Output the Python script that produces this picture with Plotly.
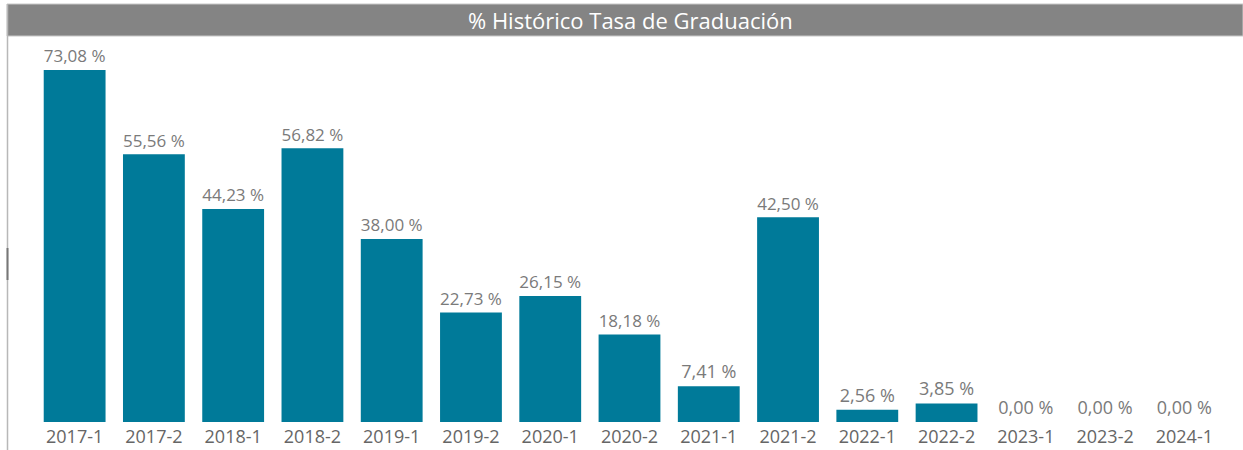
import plotly.graph_objects as go

categories = ["2017-1", "2017-2", "2018-1", "2018-2", "2019-1", "2019-2", "2020-1", "2020-2",
              "2021-1", "2021-2", "2022-1", "2022-2", "2023-1", "2023-2", "2024-1"]
values = [73.08, 55.56, 44.23, 56.82, 38.00, 22.73, 26.15, 18.18, 7.41, 42.50, 2.56, 3.85, 0.00, 0.00, 0.00]
labels = [f"{v:.2f}".replace(".", ",") + " %" for v in values]
title_text = "% Histórico Tasa de Graduación"

W, H = 1243, 450
ml, mr, mt, mb = 35, 19, 40, 28
pw, ph = W - ml - mr, H - mt - mb

def px_x(x):
    return (x - ml) / pw

def px_y(y):
    return (H - mb - y) / ph

FONT = "Open Sans, Noto Sans, sans-serif"

fig = go.Figure(go.Bar(
    x=categories, y=values, text=labels, textposition="outside",
    textfont=dict(family=FONT, size=18, color="#7a7a7a"),
    marker=dict(color="#007A99", line=dict(width=0)),
    cliponaxis=False, width=0.78,
))

fig.update_layout(
    width=W, height=H,
    margin=dict(l=ml, r=mr, t=mt, b=mb, autoexpand=False),
    paper_bgcolor="white", plot_bgcolor="white",
    showlegend=False,
    xaxis=dict(type="category", showgrid=False, zeroline=False, showline=False, ticks="",
               automargin=False, ticklabelstandoff=2,
               tickfont=dict(family=FONT, size=18, color="#666666")),
    yaxis=dict(visible=False, range=[0, 79.3], automargin=False),
    shapes=[
        dict(type="rect", xref="paper", yref="paper",
             x0=px_x(7), x1=px_x(1243), y0=px_y(36), y1=px_y(4),
             fillcolor="#848484", line=dict(width=1, color="#c8c8c8"), layer="above"),
        dict(type="line", xref="paper", yref="paper",
             x0=px_x(7.5), x1=px_x(7.5), y0=px_y(450), y1=px_y(4),
             line=dict(width=1.5, color="#b8b8b8")),
        dict(type="line", xref="paper", yref="paper",
             x0=px_x(7.5), x1=px_x(7.5), y0=px_y(280), y1=px_y(248),
             line=dict(width=2, color="#777777")),
    ],
    annotations=[dict(text=title_text, xref="paper", yref="paper",
                      x=px_x(630), y=px_y(20), showarrow=False,
                      xanchor="center", yanchor="middle",
                      font=dict(family=FONT, size=22, color="white"))],
)

fig.write_html("out.html", config={"displayModeBar": False},
               post_script="document.body.style.margin='0';document.body.style.overflow='hidden';")
